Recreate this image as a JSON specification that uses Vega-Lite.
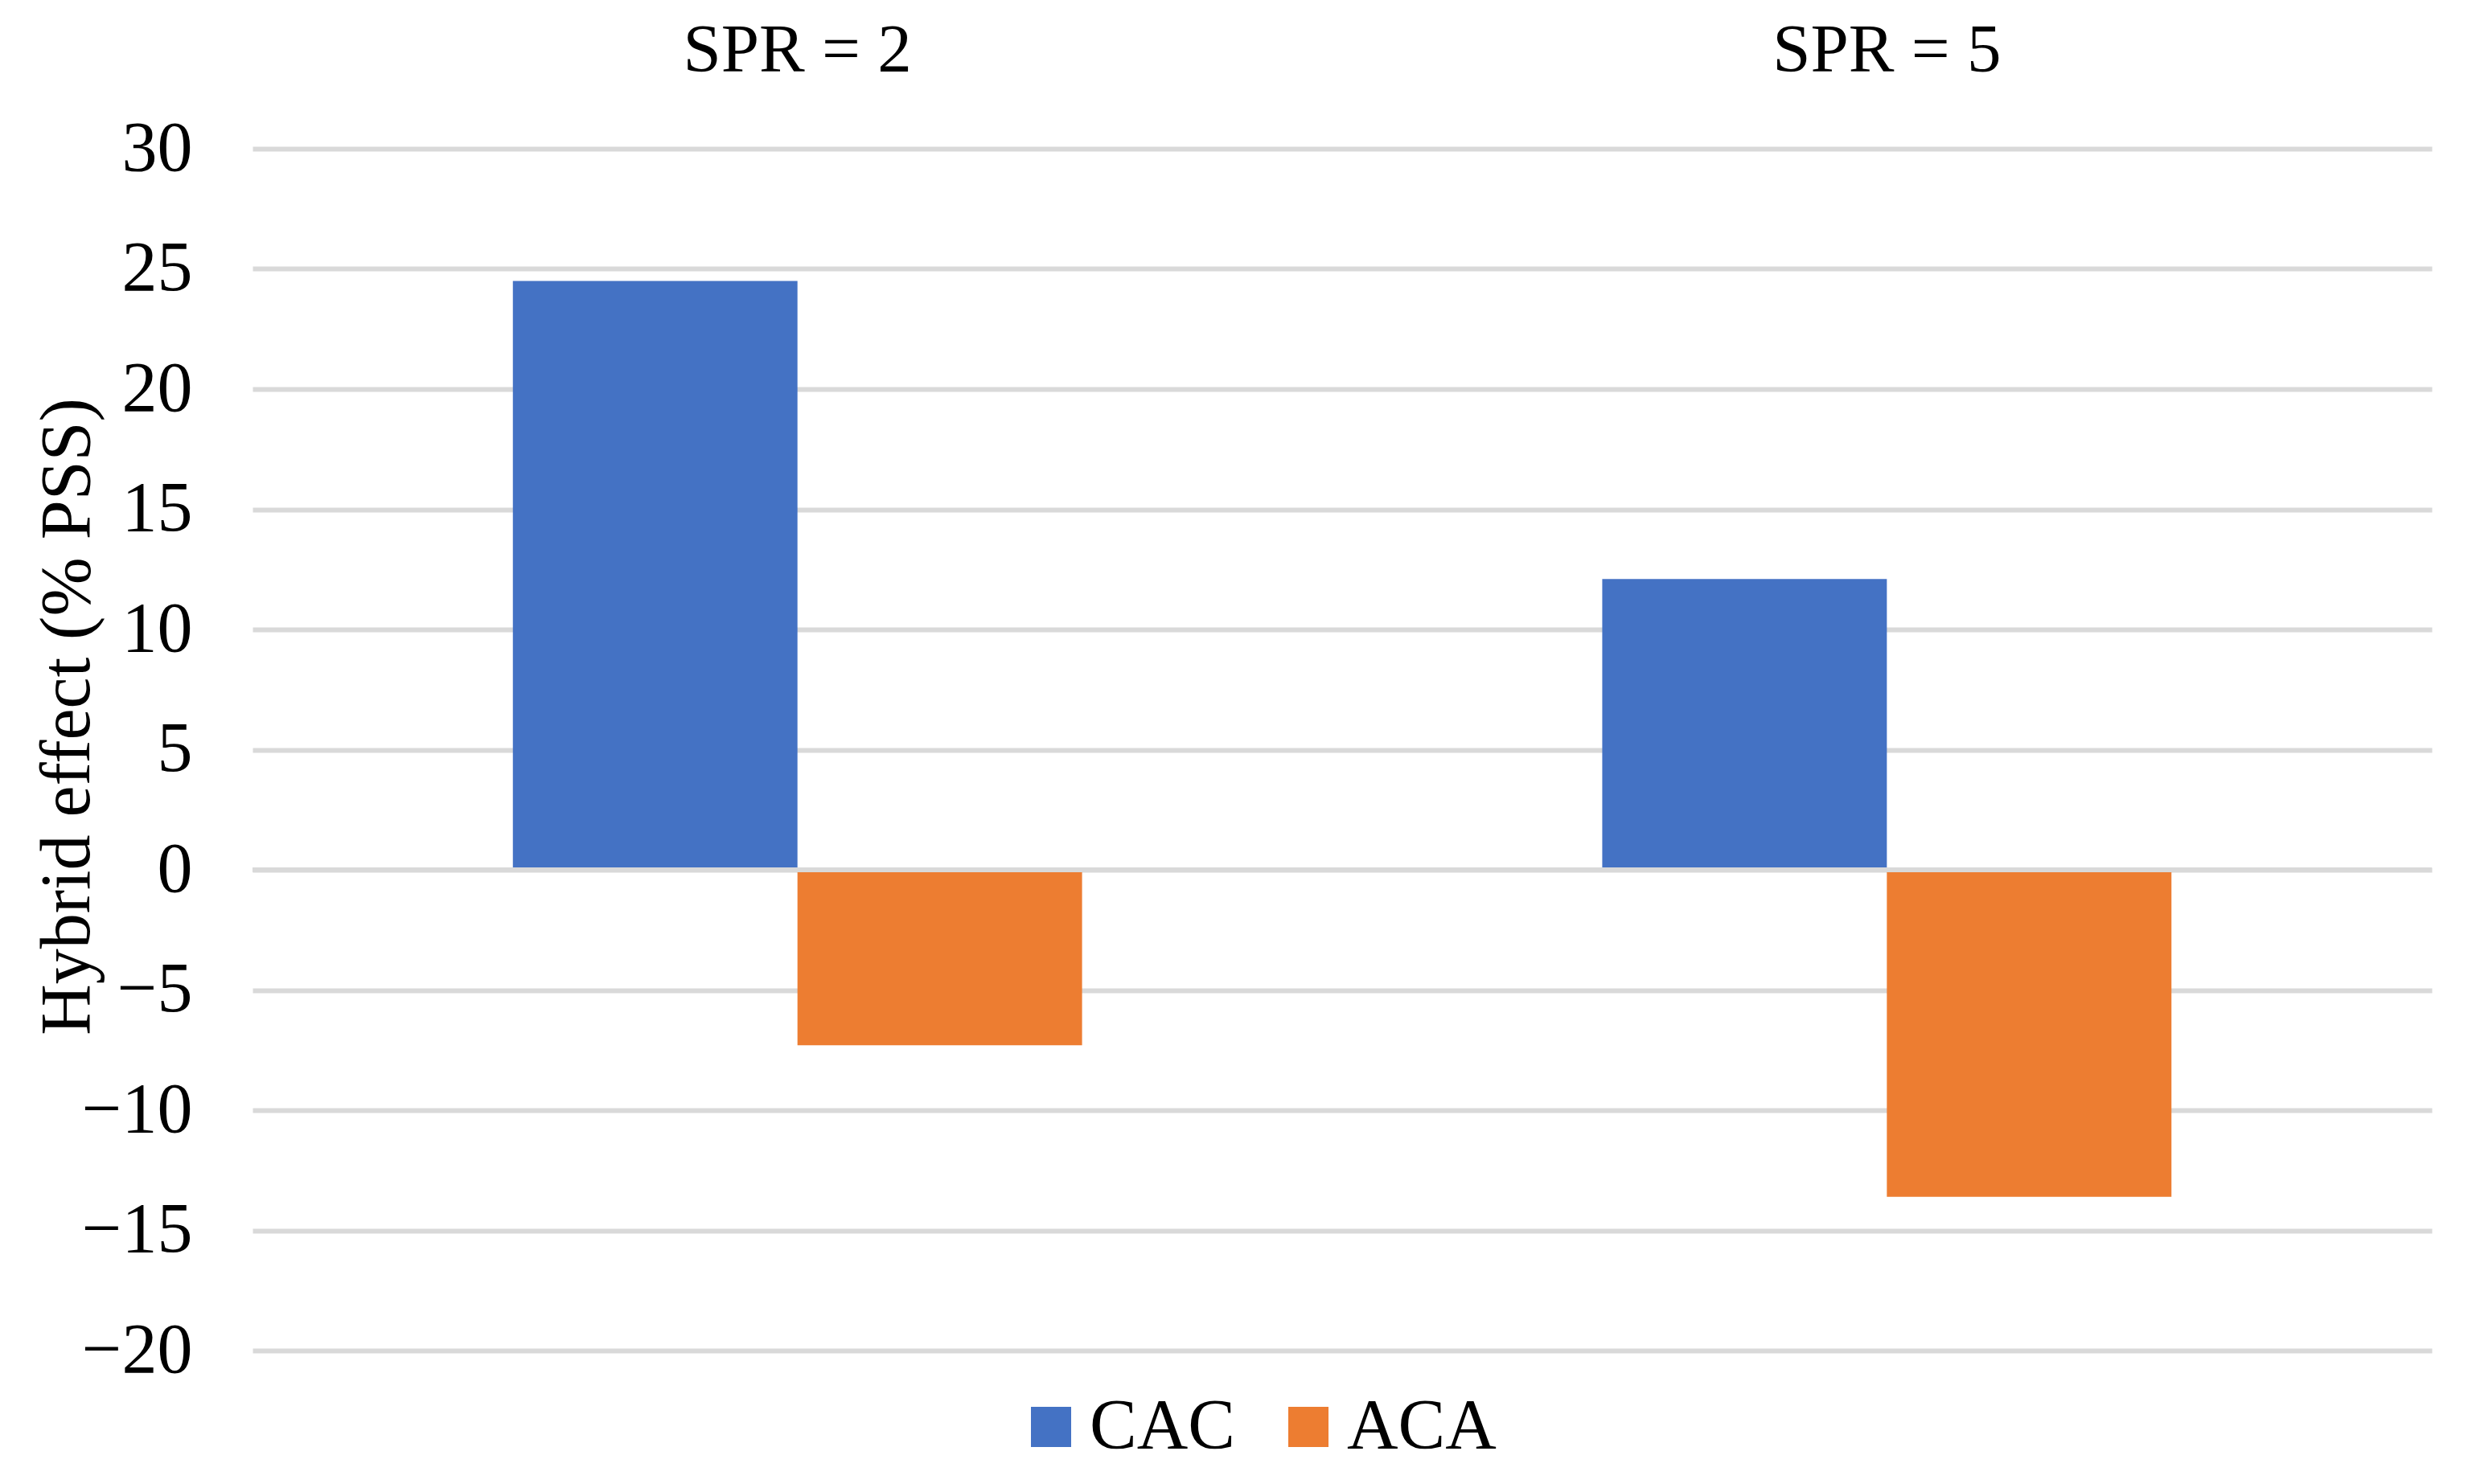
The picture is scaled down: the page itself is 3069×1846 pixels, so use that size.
{
  "$schema": "https://vega.github.io/schema/vega-lite/v6.json",
  "width": 2710,
  "height": 1495,
  "autosize": {"type": "none"},
  "padding": {"left": 314, "top": 185, "right": 45, "bottom": 166},
  "background": "white",
  "config": {
    "view": {"stroke": null},
    "font": "Liberation Serif"
  },
  "data": {
    "values": [
      {"spr": "SPR = 2", "series": "CAC", "value": 24.5},
      {"spr": "SPR = 2", "series": "ACA", "value": -7.3},
      {"spr": "SPR = 5", "series": "CAC", "value": 12.1},
      {"spr": "SPR = 5", "series": "ACA", "value": -13.6}
    ]
  },
  "layer": [
    {
      "mark": {"type": "bar"},
      "encoding": {
        "x": {
          "field": "spr",
          "type": "nominal",
          "sort": ["SPR = 2", "SPR = 5"],
          "scale": {"paddingInner": 0.4775, "paddingOuter": 0.239},
          "axis": {
            "orient": "top",
            "title": null,
            "labelAngle": 0,
            "ticks": false,
            "tickSize": 0,
            "domain": false,
            "grid": false,
            "labelFont": "Liberation Serif",
            "labelFontSize": 85,
            "labelColor": "#000000",
            "labelBaseline": "alphabetic",
            "labelPadding": 97,
            "labelLimit": 0
          }
        },
        "xOffset": {
          "field": "series",
          "type": "nominal",
          "sort": ["CAC", "ACA"],
          "scale": {"paddingInner": 0, "paddingOuter": 0}
        },
        "y": {
          "field": "value",
          "type": "quantitative",
          "scale": {"domain": [-20, 30], "nice": false, "zero": false},
          "axis": {
            "values": [-20, -15, -10, -5, 0, 5, 10, 15, 20, 25, 30],
            "title": "Hybrid effect (% PSS)",
            "titleFont": "Liberation Serif",
            "titleFontSize": 88,
            "titleFontWeight": "normal",
            "titleColor": "#000000",
            "titleAngle": -90,
            "titleBaseline": "middle",
            "titleX": -230,
            "titleY": 706,
            "ticks": false,
            "tickSize": 0,
            "domain": false,
            "grid": true,
            "gridColor": "#d9d9d9",
            "gridWidth": 6,
            "labelFont": "Liberation Serif",
            "labelFontSize": 88,
            "labelColor": "#000000",
            "labelPadding": 75,
            "labelBaseline": "middle"
          }
        },
        "color": {
          "field": "series",
          "type": "nominal",
          "sort": ["CAC", "ACA"],
          "scale": {"domain": ["CAC", "ACA"], "range": ["#4472C4", "#ED7D31"]},
          "legend": {
            "title": null,
            "orient": "none",
            "direction": "horizontal",
            "legendX": 949,
            "legendY": 1546,
            "symbolType": "square",
            "symbolSize": 2500,
            "symbolStrokeWidth": 0,
            "labelFont": "Liberation Serif",
            "labelFontSize": 88,
            "labelColor": "#000000",
            "labelOffset": 4,
            "columnPadding": 47,
            "labelLimit": 0
          }
        }
      }
    },
    {
      "mark": {"type": "rule", "color": "#d9d9d9", "strokeWidth": 6},
      "encoding": {"y": {"datum": 0}}
    }
  ]
}
